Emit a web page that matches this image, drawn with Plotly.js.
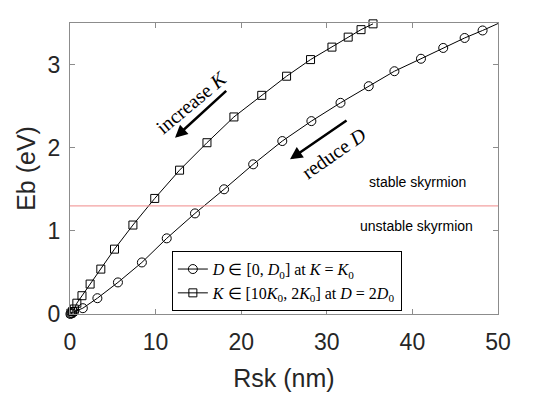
<!DOCTYPE html>
<html>
<head>
<meta charset="utf-8">
<script src="https://cdn.plot.ly/plotly-3.0.1.min.js"></script>
<style>html,body{margin:0;padding:0;background:#fff;}#chart{width:538px;height:398px;}</style>
</head>
<body>
<div id="chart"></div>
<script>
// Series D in [0, D0] at K = K0 (circles)
const circX = [0.05, 0.2, 0.45, 1.5, 3.2, 5.6, 8.4, 11.3, 14.6, 18.0, 21.4, 24.8, 28.2, 31.6, 34.9, 37.9, 41.0, 43.6, 46.1, 48.2];
const circY = [0.0, 0.01, 0.025, 0.07, 0.19, 0.38, 0.62, 0.91, 1.21, 1.50, 1.80, 2.08, 2.32, 2.54, 2.74, 2.92, 3.07, 3.20, 3.32, 3.41];
// continuation of the circle curve to the frame edge (no marker)
const circExtX = [48.2, 50.25];
const circExtY = [3.41, 3.505];
// Series K in [10K0, 2K0] at D = 2D0 (squares)
const sqX = [0.1, 0.3, 0.5, 0.8, 1.4, 2.35, 3.6, 5.2, 7.35, 9.9, 12.8, 16.0, 19.15, 22.4, 25.3, 28.1, 30.6, 32.5, 34.0, 35.4];
const sqY = [0.01, 0.03, 0.06, 0.13, 0.22, 0.36, 0.54, 0.78, 1.07, 1.39, 1.73, 2.06, 2.37, 2.63, 2.86, 3.06, 3.21, 3.33, 3.42, 3.49];
// stability threshold
const thresholdY = 1.3;
const xTicks = [0, 10, 20, 30, 40, 50];
const yTicks = [0, 1, 2, 3];

const serif = 'Liberation Serif, Times New Roman, serif';
const sans = 'Liberation Sans, Arial, Helvetica, sans-serif';
const txt = '#262626';

const traces = [
  {
    x: circX, y: circY, type: 'scatter', mode: 'lines+markers',
    name: '<i>D</i> ∈ [0, <i>D</i><sub>0</sub>] at <i>K</i> = <i>K</i><sub>0</sub>',
    line: {color: '#000', width: 1},
    marker: {symbol: 'circle-open', size: 9, color: '#000', line: {width: 1, color: '#000'}},
    cliponaxis: false
  },
  {
    x: circExtX, y: circExtY, type: 'scatter', mode: 'lines', showlegend: false,
    line: {color: '#000', width: 1}, cliponaxis: false, hoverinfo: 'skip'
  },
  {
    x: sqX, y: sqY, type: 'scatter', mode: 'lines+markers',
    name: '<i>K</i> ∈ [10<i>K</i><sub>0</sub>, 2<i>K</i><sub>0</sub>] at <i>D</i> = 2<i>D</i><sub>0</sub>',
    line: {color: '#000', width: 1},
    marker: {symbol: 'square-open', size: 8, color: '#000', line: {width: 1, color: '#000'}},
    cliponaxis: false
  }
];

const axisCommon = {
  showgrid: false, zeroline: false,
  showline: true, linecolor: '#8c8c8c', linewidth: 1, mirror: 'ticks',
  ticks: 'inside', ticklen: 5, tickcolor: '#8c8c8c', tickwidth: 1,
  tickfont: {family: sans, size: 23, color: txt}
};

const layout = {
  width: 538, height: 398,
  margin: {l: 70, r: 40, t: 23, b: 84},
  paper_bgcolor: '#fff', plot_bgcolor: '#fff',
  showlegend: true,
  legend: {
    x: 0.238, y: 0.216, xanchor: 'left', yanchor: 'top',
    bgcolor: '#fff', bordercolor: '#000', borderwidth: 1,
    font: {family: serif, size: 16, color: '#000'},
    itemwidth: 30
  },
  xaxis: Object.assign({}, axisCommon, {
    range: [0, 50], tickvals: xTicks, ticktext: xTicks.map(String),
    ticklabelstandoff: 7,
    title: {text: 'Rsk (nm)', font: {family: sans, size: 25, color: txt}, standoff: 15}
  }),
  yaxis: Object.assign({}, axisCommon, {
    range: [0, 3.5], tickvals: yTicks, ticktext: yTicks.map(String),
    ticklabelstandoff: 4,
    title: {text: 'Eb (eV)', font: {family: sans, size: 25, color: txt}, standoff: 4}
  }),
  shapes: [
    {type: 'line', xref: 'paper', x0: 0, x1: 1, yref: 'y', y0: thresholdY, y1: thresholdY,
     line: {color: '#f08a8a', width: 1}}
  ],
  annotations: [
    {x: 12.27, y: 2.12, ax: 18.42, ay: 2.70, xref: 'x', yref: 'y', axref: 'x', ayref: 'y',
     showarrow: true, arrowhead: 2, arrowsize: 1, arrowwidth: 2.5, arrowcolor: '#000', text: ''},
    {x: 25.7, y: 1.86, ax: 32.48, ay: 2.34, xref: 'x', yref: 'y', axref: 'x', ayref: 'y',
     showarrow: true, arrowhead: 2, arrowsize: 1, arrowwidth: 2.5, arrowcolor: '#000', text: ''},
    {x: 14.25, y: 2.545, xref: 'x', yref: 'y', showarrow: false, textangle: -40,
     text: 'increase <i>K</i>', font: {family: serif, size: 20, color: '#000'}},
    {x: 30.84, y: 1.94, xref: 'x', yref: 'y', showarrow: false, textangle: -35,
     text: 'reduce <i>D</i>', font: {family: serif, size: 20, color: '#000'}},
    {x: 40.65, y: 1.59, xref: 'x', yref: 'y', showarrow: false,
     text: 'stable skyrmion', font: {family: sans, size: 14, color: '#000'}},
    {x: 40.5, y: 1.06, xref: 'x', yref: 'y', showarrow: false,
     text: 'unstable skyrmion', font: {family: sans, size: 14, color: '#000'}},
    {x: 35.3, y: 3.655, xref: 'x', yref: 'y', showarrow: false,
     text: '(2<i>K</i><sub>0</sub>, 2<i>D</i><sub>0</sub>)', font: {family: serif, size: 14, color: '#000'}},
    {x: 50, y: 3.645, xref: 'x', yref: 'y', showarrow: false,
     text: '(<i>K</i><sub>0</sub>, <i>D</i><sub>0</sub>)', font: {family: serif, size: 14, color: '#000'}}
  ]
};

Plotly.newPlot('chart', traces, layout, {displayModeBar: false, staticPlot: true});
</script>
</body>
</html>
